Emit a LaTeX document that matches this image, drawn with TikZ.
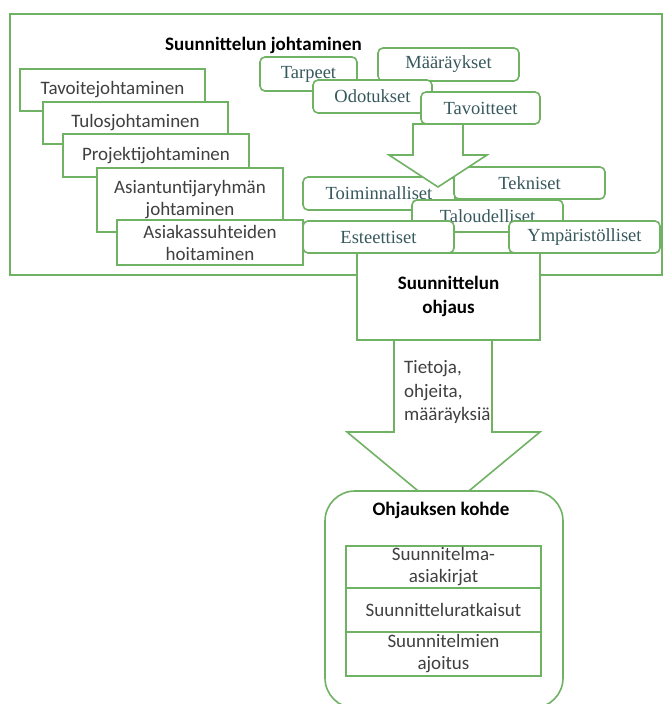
\documentclass[tikz,border=0pt]{standalone}
\usepackage{fontspec}
\setmainfont{Carlito}
\newfontfamily\serfont{Liberation Serif}
\definecolor{gr}{RGB}{112,178,100}
\definecolor{tealtext}{RGB}{55,88,92}
\definecolor{graytext}{RGB}{64,64,64}
\tikzset{
  frame/.style={draw=gr, line width=1.6pt},
  lbox/.style={draw=gr, line width=1.6pt, fill=white, text=graytext, align=center, inner sep=0pt,
    font=\fontsize{19}{22}\selectfont},
  sbox/.style={draw=gr, line width=1.6pt, fill=white, rounded corners=5pt, text=tealtext, inner sep=0pt,
    font=\serfont\fontsize{18.5}{22}\selectfont},
  bigarrow/.style={draw=gr, line width=1.6pt, fill=white, line join=miter},
  boldtitle/.style={text=black, align=center, inner sep=0pt, font=\bfseries\fontsize{19}{24}\selectfont},
  rowbox/.style={draw=gr, line width=1.6pt, fill=white, text=graytext, align=center, inner sep=0pt,
    minimum width=195pt, font=\fontsize{19}{22}\selectfont},
}
\begin{document}
\begin{tikzpicture}[x=1pt,y=-1pt]
\useasboundingbox (0,0) rectangle (664,704);
\clip (0,0) rectangle (664,704);
% outer frame
\draw[frame] (10,14) rectangle (662,275);
\node[boldtitle] (title) at (263.5,45) {Suunnittelun johtaminen};
% left stack
\node[lbox, minimum width=185pt, minimum height=42pt] (l1) at (112.5,90) {Tavoitejohtaminen};
\node[lbox, minimum width=185pt, minimum height=42pt] (l2) at (135.5,123) {Tulosjohtaminen};
\node[lbox, minimum width=186pt, minimum height=43pt] (l3) at (156,155.5) {Projektijohtaminen};
\node[lbox, minimum width=186pt, minimum height=64pt] (l4) at (190,200) {Asiantuntijaryhmän\\johtaminen};
\node[lbox, minimum width=186pt, minimum height=45pt] (l5) at (210,242.5) {Asiakassuhteiden\\hoitaminen};
% top serif boxes
\node[sbox, minimum width=97pt, minimum height=34pt] (tarpeet) at (308.5,74) {Tarpeet};
\node[sbox, minimum width=141pt, minimum height=33pt] (maar) at (448.5,64.5) {Määräykset};
\node[sbox, minimum width=119pt, minimum height=33pt] (odot) at (372.5,96.5) {Odotukset};
\node[sbox, minimum width=119pt, minimum height=32pt] (tavo) at (480.5,108) {Tavoitteet};
% middle serif boxes
\node[sbox, minimum width=152pt, minimum height=33pt] (toim) at (379,193.5) {Toiminnalliset};
\node[sbox, minimum width=151pt, minimum height=32pt] (tekn) at (529.5,183) {Tekniset};
% small arrow
\draw[bigarrow] (413,124) -- (413,155) -- (389,155) -- (438,187) -- (487,155) -- (463,155) -- (463,124) -- cycle;
\node[sbox, minimum width=151pt, minimum height=32pt] (talo) at (487.5,216) {Taloudelliset};
\node[sbox, minimum width=151pt, minimum height=32pt] (este) at (378.5,237) {Esteettiset};
\node[sbox, minimum width=151pt, minimum height=32pt] (ymp) at (584.5,237) {Ympäristölliset};
% ohjaus
\node[lbox, minimum width=183pt, minimum height=87pt, text=black,
  font=\bfseries\fontsize{19}{24}\selectfont] (ohjaus) at (448.5,296.5) {Suunnittelun\\ohjaus};
% big arrow
\draw[bigarrow] (394,340) -- (394,432) -- (347,432) -- (443.5,512) -- (540,432) -- (492,432) -- (492,340) -- cycle;
\node[anchor=west, align=left, inner sep=0pt, text=graytext, font=\fontsize{19}{23.5}\selectfont]
  (info) at (404,392) {Tietoja,\\ohjeita,\\määräyksiä};
% target box
\node[draw=gr, line width=1.6pt, fill=white, rounded corners=30pt, minimum width=238pt, minimum height=217pt,
  inner sep=0pt] (kohde) at (444,599.5) {};
\node[boldtitle] (kohdetitle) at (441,510) {Ohjauksen kohde};
\node[rowbox, minimum height=42pt] (r1) at (443.5,567) {Suunnitelma-\\asiakirjat};
\node[rowbox, minimum height=44pt] (r2) at (443.5,610) {Suunnitteluratkaisut};
\node[rowbox, minimum height=44pt] (r3) at (443.5,654) {Suunnitelmien\\ajoitus};
\end{tikzpicture}
\end{document}
